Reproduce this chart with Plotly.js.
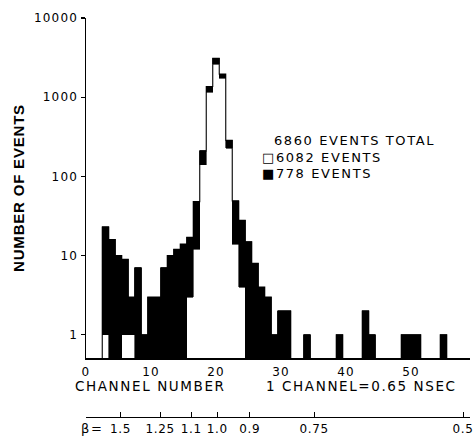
<!DOCTYPE html>
<html>
<head>
<meta charset="utf-8">
<script src="https://cdn.plot.ly/plotly-3.0.1.min.js"></script>
<style>
  html, body { margin: 0; padding: 0; background: #fff; }
  #chart { width: 476px; height: 437px; }
  .annotation-text { letter-spacing: 1.6px; }
  .xtick text, .ytick text { letter-spacing: 1.2px; }
  .x2tick text { letter-spacing: 0.6px; }
  .ytitle { letter-spacing: 0.8px; }
</style>
</head>
<body>
<div id="chart"></div>
<script>
// ---- data ----
const channels     = [3, 4, 5, 6, 7, 8, 9, 10, 11, 12, 13, 14, 15, 16, 17, 18, 19, 20, 21, 22, 23, 24, 25, 26, 27, 28, 29, 30, 31, 34, 39, 43, 44, 49, 50, 51, 55];
const whiteEvents  = [1, 0, 0, 1, 1, 0, 0, 0, 0, 0, 0, 0, 0, 3, 12, 140, 1150, 2620, 1740, 226, 14, 4, 0, 0, 0, 0, 0, 0, 0, 0, 0, 0, 0, 0, 0, 0, 0];
const blackEvents  = [22, 16, 10, 8, 2, 7, 1, 3, 3, 7, 10, 12, 14, 14, 36, 70, 215, 470, 215, 60, 35, 24, 15, 8, 4, 3, 1, 2, 2, 1, 1, 2, 1, 1, 1, 1, 1];
const xTickVals    = [0, 10, 20, 30, 40, 50];
const yTickVals    = [1, 10, 100, 1000, 10000];
const yTickText    = ['1', '10', '100', '1000', '10000'];
const betaLabels   = ['1.5', '1.25', '1.1', '1.0', '0.9', '0.75', '0.5'];
const betaChannels = [5.3, 11.4, 16.2, 20.2, 25.2, 35.1, 58.0];
const legendLines  = ['6860 EVENTS TOTAL', '\u25A16082 EVENTS', '\u25A0778 EVENTS'];
const axisTitles   = {x: 'CHANNEL NUMBER', y: 'NUMBER OF EVENTS', note: '1 CHANNEL=0.65 NSEC', beta: '\u03B2='};

// ---- layout geometry (pixels) ----
const W = 476, H = 437;
const M = {l: 86, r: 6, t: 18, b: 20};
const plotW = W - M.l - M.r, plotH = H - M.t - M.b;
const xMain = 358;                       // pixel row of the channel axis
const pxPerChannel = 6.5;
const xRange = [0, plotW / pxPerChannel];
const yRange = [Math.log10(0.51), 4];
const px = x => (x - M.l) / plotW;
const py = y => (H - M.b - y) / plotH;

// outline of the summed histogram (step line), built from the data arrays
const floorVal = 1e-3;
const lo = Math.min(...channels) - 1, hi = Math.max(...channels) + 1;
const stepX = [], stepY = [];
for (let c = lo; c <= hi; c++) {
  const i = channels.indexOf(c);
  const tot = i >= 0 ? whiteEvents[i] + blackEvents[i] : 0;
  stepX.push(c - 0.5);
  stepY.push(tot > 0 ? tot : floorVal);
}
stepX.push(hi + 0.5); stepY.push(floorVal);

const FONT = 'DejaVu Sans';

const traces = [
  {type: 'bar', x: channels, y: whiteEvents, width: 1,
   marker: {color: '#ffffff', line: {width: 0}}, hoverinfo: 'skip', showlegend: false},
  {type: 'bar', x: channels, y: blackEvents, width: 1,
   marker: {color: '#000000', line: {width: 0.6, color: '#000000'}}, hoverinfo: 'skip', showlegend: false},
  {type: 'scatter', mode: 'lines', x: stepX, y: stepY,
   line: {shape: 'hv', color: '#000000', width: 1.1}, hoverinfo: 'skip', showlegend: false},
  {type: 'scatter', mode: 'markers', x: [], y: [], xaxis: 'x2', yaxis: 'y', showlegend: false, hoverinfo: 'skip'}
];

const layout = {
  width: W, height: H,
  margin: M,
  paper_bgcolor: '#ffffff', plot_bgcolor: '#ffffff',
  barmode: 'stack', bargap: 0,
  showlegend: false,
  font: {family: FONT, color: '#000', size: 12},
  xaxis: {
    range: xRange, domain: [0, 1], anchor: 'y',
    showline: true, linecolor: '#000', linewidth: 1.5,
    showgrid: false, zeroline: false,
    ticks: '', tickvals: xTickVals, ticktext: xTickVals.map(String),
    tickfont: {family: FONT, size: 12}, ticklabelstandoff: 2
  },
  xaxis2: {
    overlaying: 'x', anchor: 'free', position: 0, side: 'bottom',
    range: xRange,
    showline: true, linecolor: '#000', linewidth: 1.2,
    showgrid: false, zeroline: false,
    ticks: 'inside', ticklen: 5, tickwidth: 1, tickcolor: '#000',
    tickvals: betaChannels, ticktext: betaLabels,
    ticklabeloverflow: 'allow',
    tickfont: {family: FONT, size: 12}
  },
  yaxis: {
    type: 'log', range: yRange, domain: [py(xMain), 1],
    showline: true, linecolor: '#000', linewidth: 1.5,
    showgrid: false, zeroline: false,
    ticks: 'outside', ticklen: 4, tickwidth: 1.2, tickcolor: '#000',
    tickvals: yTickVals, ticktext: yTickText,
    tickfont: {family: FONT, size: 12},
    title: {text: axisTitles.y, font: {family: 'Liberation Sans', size: 15, weight: 'bold'}, standoff: 5}
  },
  annotations: [
    {text: axisTitles.x, xref: 'paper', yref: 'paper', x: px(73), y: py(386), xanchor: 'left', yanchor: 'middle',
     showarrow: false, font: {family: FONT, size: 13.5}},
    {text: axisTitles.note, xref: 'paper', yref: 'paper', x: px(459), y: py(386), xanchor: 'right', yanchor: 'middle',
     showarrow: false, font: {family: FONT, size: 13.5}},
    {text: axisTitles.beta, xref: 'paper', yref: 'paper', x: px(79), y: py(428), xanchor: 'left', yanchor: 'middle',
     showarrow: false, font: {family: FONT, size: 13}},
    {text: legendLines[0], xref: 'paper', yref: 'paper', x: px(272), y: py(140), xanchor: 'left', yanchor: 'middle',
     showarrow: false, font: {family: FONT, size: 13}},
    {text: legendLines[1], xref: 'paper', yref: 'paper', x: px(260), y: py(157), xanchor: 'left', yanchor: 'middle',
     showarrow: false, font: {family: FONT, size: 13}},
    {text: legendLines[2], xref: 'paper', yref: 'paper', x: px(260), y: py(173), xanchor: 'left', yanchor: 'middle',
     showarrow: false, font: {family: FONT, size: 13}}
  ]
};

Plotly.newPlot('chart', traces, layout, {staticPlot: true, displayModeBar: false});
</script>
</body>
</html>
